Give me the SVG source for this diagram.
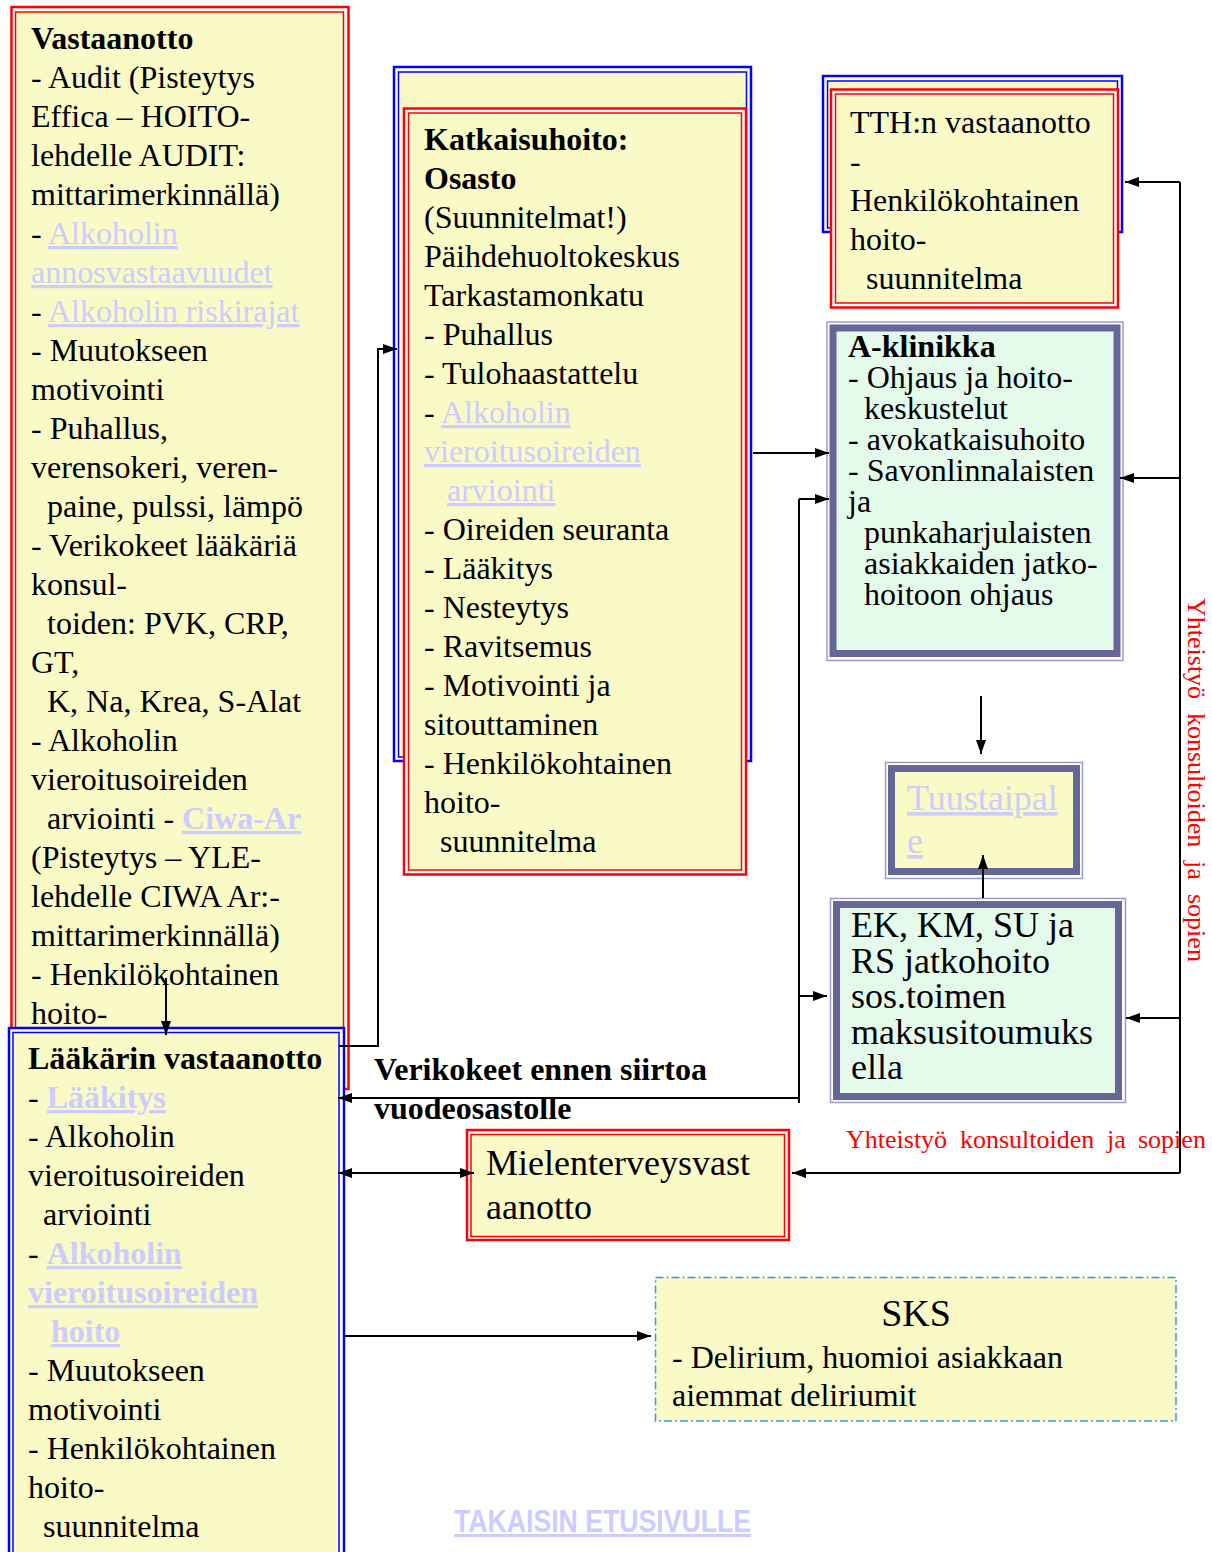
<svg xmlns="http://www.w3.org/2000/svg" width="1212" height="1552" viewBox="0 0 1212 1552">
<style>
text{font-family:"Liberation Serif","Times New Roman",serif;font-size:32px;fill:#000}
.b{font-weight:bold}
.lk{fill:#CCCCFF;text-decoration:underline}
.ro{fill:#fff;stroke:#FF0000;stroke-width:2.5}
.ri{fill:#F9FAC6;stroke:#FF0000;stroke-width:1.5}
.bo{fill:#fff;stroke:#0000FF;stroke-width:2.5}
.bi{fill:#F9FAC6;stroke:#0000FF;stroke-width:1.5}
.so{fill:#fff;stroke:#9A9AC8;stroke-width:1.5}
.sy{fill:#F9FAC6;stroke:#666699;stroke-width:7}
.sm{fill:#E4FBEC;stroke:#666699;stroke-width:7}
.c{fill:none;stroke:#000;stroke-width:2}
.red{fill:#FF0000;font-size:26px}
.lg{font-size:36px}
</style>
<defs>
<marker id="ah" viewBox="0 0 14 10" refX="14" refY="5" markerWidth="14" markerHeight="10" markerUnits="userSpaceOnUse" orient="auto-start-reverse">
<path d="M0,0 L14,5 L0,10 z" fill="#000"/>
</marker>
</defs>

<g id="vastaanotto">
<rect class="ro" x="11.5" y="7" width="337" height="1082"/>
<rect class="ri" x="15.5" y="12" width="328" height="1072"/>
<text x="31" y="49" class="b">Vastaanotto</text>
<text x="31" y="88">- Audit (Pisteytys</text>
<text x="31" y="127">Effica – HOITO-</text>
<text x="31" y="166">lehdelle AUDIT:</text>
<text x="31" y="205">mittarimerkinnällä)</text>
<text x="31" y="244">- <tspan class="lk">Alkoholin</tspan></text>
<text x="31" y="283" class="lk">annosvastaavuudet</text>
<text x="31" y="322">- <tspan class="lk">Alkoholin riskirajat</tspan></text>
<text x="31" y="361">- Muutokseen</text>
<text x="31" y="400">motivointi</text>
<text x="31" y="439">- Puhallus,</text>
<text x="31" y="478">verensokeri, veren-</text>
<text x="47" y="517">paine, pulssi, lämpö</text>
<text x="31" y="556">- Verikokeet lääkäriä</text>
<text x="31" y="595">konsul-</text>
<text x="47" y="634">toiden: PVK, CRP,</text>
<text x="31" y="673">GT,</text>
<text x="47" y="712">K, Na, Krea, S-Alat</text>
<text x="31" y="751">- Alkoholin</text>
<text x="31" y="790">vieroitusoireiden</text>
<text x="47" y="829">arviointi - <tspan class="lk b">Ciwa-Ar</tspan></text>
<text x="31" y="868">(Pisteytys – YLE-</text>
<text x="31" y="907">lehdelle CIWA Ar:-</text>
<text x="31" y="946">mittarimerkinnällä)</text>
<text x="31" y="985">- Henkilökohtainen</text>
<text x="31" y="1024">hoito-</text>
</g>

<g id="laakarin">
<rect class="bo" x="9" y="1028" width="335" height="540"/>
<rect class="bi" x="13" y="1032.5" width="326" height="530"/>
<text x="28" y="1069" class="b">Lääkärin vastaanotto</text>
<text x="28" y="1108">- <tspan class="lk b">Lääkitys</tspan></text>
<text x="28" y="1147">- Alkoholin</text>
<text x="28" y="1186">vieroitusoireiden</text>
<text x="43" y="1225">arviointi</text>
<text x="28" y="1264">- <tspan class="lk b">Alkoholin</tspan></text>
<text x="28" y="1303" class="lk b">vieroitusoireiden</text>
<text x="51" y="1342" class="lk b">hoito</text>
<text x="28" y="1381">- Muutokseen</text>
<text x="28" y="1420">motivointi</text>
<text x="28" y="1459">- Henkilökohtainen</text>
<text x="28" y="1498">hoito-</text>
<text x="43" y="1537">suunnitelma</text>
</g>

<g id="katkaisuhoito">
<rect class="bo" x="394" y="67" width="357" height="694"/>
<rect class="bi" x="398.5" y="72" width="348" height="685"/>
<rect class="ro" x="404" y="108.5" width="342" height="766"/>
<rect class="ri" x="408.5" y="113" width="333" height="757"/>
<text x="424" y="150" class="b">Katkaisuhoito:</text>
<text x="424" y="189" class="b">Osasto</text>
<text x="424" y="228">(Suunnitelmat!)</text>
<text x="424" y="267">Päihdehuoltokeskus</text>
<text x="424" y="306">Tarkastamonkatu</text>
<text x="424" y="345">- Puhallus</text>
<text x="424" y="384">- Tulohaastattelu</text>
<text x="424" y="423">- <tspan class="lk">Alkoholin</tspan></text>
<text x="424" y="462" class="lk">vieroitusoireiden</text>
<text x="447" y="501" class="lk">arviointi</text>
<text x="424" y="540">- Oireiden seuranta</text>
<text x="424" y="579">- Lääkitys</text>
<text x="424" y="618">- Nesteytys</text>
<text x="424" y="657">- Ravitsemus</text>
<text x="424" y="696">- Motivointi ja</text>
<text x="424" y="735">sitouttaminen</text>
<text x="424" y="774">- Henkilökohtainen</text>
<text x="424" y="813">hoito-</text>
<text x="440" y="852">suunnitelma</text>
</g>

<g id="tth">
<rect class="bo" x="823" y="76" width="299" height="156"/>
<rect class="bi" x="827.5" y="81" width="290" height="147"/>
<rect class="ro" x="831" y="89.5" width="287" height="218"/>
<rect class="ri" x="835.5" y="94" width="278" height="209"/>
<text x="850" y="133">TTH:n vastaanotto</text>
<text x="850" y="172">-</text>
<text x="850" y="211">Henkilökohtainen</text>
<text x="850" y="250">hoito-</text>
<text x="866" y="289">suunnitelma</text>
</g>

<g id="aklinikka">
<rect class="so" x="827" y="322" width="296" height="338.5"/>
<rect class="sm" x="833" y="328" width="284" height="325.5"/>
<text x="848" y="357" class="b">A-klinikka</text>
<text x="848" y="388">- Ohjaus ja hoito-</text>
<text x="864" y="419">keskustelut</text>
<text x="848" y="450">- avokatkaisuhoito</text>
<text x="848" y="481">- Savonlinnalaisten</text>
<text x="848" y="512">ja</text>
<text x="864" y="543">punkaharjulaisten</text>
<text x="864" y="574">asiakkaiden jatko-</text>
<text x="864" y="605">hoitoon ohjaus</text>
</g>

<g id="tuustaipale">
<rect class="so" x="885.5" y="762.5" width="197" height="116"/>
<rect class="sy" x="891.5" y="768.5" width="185" height="103"/>
<text x="907" y="810" class="lk lg">Tuustaipal</text>
<text x="907" y="853" class="lk lg">e</text>
</g>

<g id="ek">
<rect class="so" x="830.5" y="898.5" width="295" height="204"/>
<rect class="sm" x="836.5" y="904.5" width="282" height="192"/>
<text x="851" y="937" class="lg">EK, KM, SU ja</text>
<text x="851" y="973" class="lg">RS jatkohoito</text>
<text x="851" y="1008" class="lg">sos.toimen</text>
<text x="851" y="1044" class="lg">maksusitoumuks</text>
<text x="851" y="1079" class="lg">ella</text>
</g>

<g id="mielenterveys">
<rect class="ro" x="467" y="1130" width="322" height="110"/>
<rect class="ri" x="471" y="1134.5" width="313.5" height="102"/>
<text x="486" y="1175" class="lg">Mielenterveysvast</text>
<text x="486" y="1219" class="lg">aanotto</text>
</g>

<g id="sks">
<rect x="655.5" y="1277.5" width="520.5" height="143.5" fill="#F9FAC6" stroke="#3399FF" stroke-width="1.5" stroke-dasharray="8,3,2,3"/>
<text x="916" y="1326" text-anchor="middle" style="font-size:38px">SKS</text>
<text x="672" y="1368">- Delirium, huomioi asiakkaan</text>
<text x="672" y="1406">aiemmat deliriumit</text>
</g>

<g id="connectors">
<path class="c" d="M166 978 V1035" marker-end="url(#ah)"/>
<path class="c" d="M339 1046 H378 V349 H397" marker-end="url(#ah)"/>
<path class="c" d="M753 453 H829" marker-end="url(#ah)"/>
<path class="c" d="M799 499 V1103"/>
<path class="c" d="M799 499 H829" marker-end="url(#ah)"/>
<path class="c" d="M799 996 H827" marker-end="url(#ah)"/>
<path class="c" d="M798 1098 H338" marker-end="url(#ah)"/>
<path class="c" d="M338 1173 H474" marker-start="url(#ah)" marker-end="url(#ah)"/>
<path class="c" d="M1180 182 V1173"/>
<path class="c" d="M1180 182 H1125" marker-end="url(#ah)"/>
<path class="c" d="M1180 478 H1120" marker-end="url(#ah)"/>
<path class="c" d="M1180 1018 H1126" marker-end="url(#ah)"/>
<path class="c" d="M1180 1173 H792" marker-end="url(#ah)"/>
<path class="c" d="M981 696 V754" marker-end="url(#ah)"/>
<path class="c" d="M983 898 V855" marker-end="url(#ah)"/>
<path class="c" d="M345 1336 H651" marker-end="url(#ah)"/>
</g>

<g id="labels">
<text x="374" y="1080" class="b">Verikokeet ennen siirtoa</text>
<text x="374" y="1119" class="b">vuodeosastolle</text>
<text class="red" y="1148"><tspan x="846">Yhteistyö</tspan><tspan x="960">konsultoiden</tspan><tspan x="1107">ja</tspan><tspan x="1138">sopien</tspan></text>
<text class="red" transform="translate(1188,598) rotate(90)"><tspan x="0">Yhteistyö</tspan><tspan x="115">konsultoiden</tspan><tspan x="263">ja</tspan><tspan x="296">sopien</tspan></text>
<text x="454" y="1532" textLength="297" lengthAdjust="spacingAndGlyphs" style="font-family:'Liberation Sans',Arial,sans-serif;font-size:31px;font-weight:bold;fill:#CCCCFF;text-decoration:underline">TAKAISIN ETUSIVULLE</text>
</g>
</svg>
